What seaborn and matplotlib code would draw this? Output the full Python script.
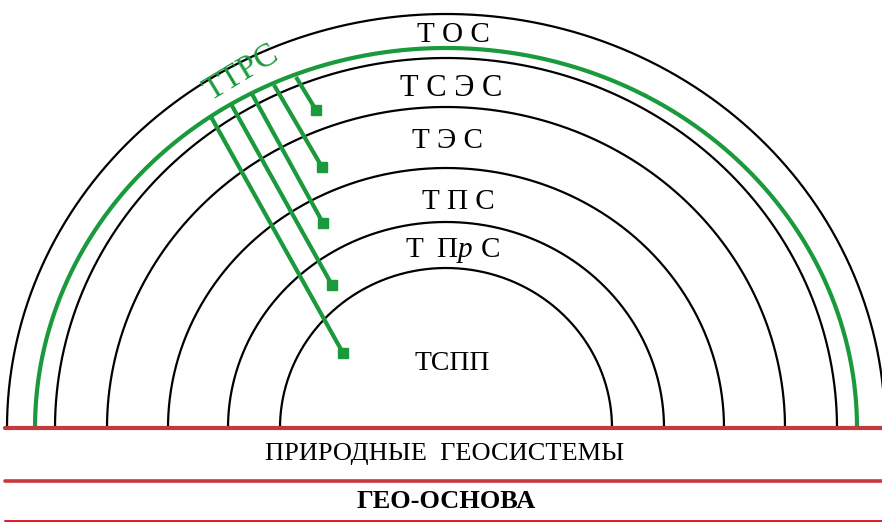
import numpy as np
import pandas as pd
import matplotlib
matplotlib.use("Agg")
import matplotlib.pyplot as plt
import seaborn as sns

sns.set_theme(style="white")
plt.rcParams['font.family'] = ['Liberation Serif', 'DejaVu Serif']
plt.rcParams['text.color'] = 'black'

# ---- data (diagram geometry in pixel units) ----
center_x = 446
base_y = 428
ring_rx = [439, 391, 339, 278, 218, 166]
ring_ry = [414, 370, 321, 260, 206, 160]
green_rx = 411
green_ry = 380
ring_labels = ["Т О С", "Т С Э С", "Т Э С", "Т П С", "ТСПП"]
ring_label_x = [453, 451, 448, 458, 452]
ring_label_y = [35, 88, 141, 202, 364]
ring_label_size = [21, 22, 21, 21, 20]
tprs_parts = ["Т", "П", "р", "С"]
tprs_x = [414, 447, 465, 490]
tprs_style = ["normal", "normal", "italic", "normal"]
arrow_start_x = [210, 231, 252, 274, 296]
arrow_start_y = [115, 104, 94, 85, 77]
arrow_end_x = [343, 332, 323, 322, 316]
arrow_end_y = [353, 285, 223, 167, 110]
bottom_labels = ["ПРИРОДНЫЕ  ГЕОСИСТЕМЫ", "ГЕО-ОСНОВА"]

GREEN = "#1a9a3c"
fig = plt.figure(figsize=(8.82, 5.23), dpi=100)
ax = fig.add_axes([0, 0, 1, 1])
ax.set_xlim(0, 882)
ax.set_ylim(523, 0)
ax.axis("off")

t = np.linspace(0, np.pi, 400)
rows = []
for i, (rx, ry) in enumerate(zip(ring_rx, ring_ry)):
    for k, tt in enumerate(t):
        rows.append({"ring": i, "k": k, "x": center_x + rx * np.cos(tt), "y": base_y - ry * np.sin(tt)})
rings = pd.DataFrame(rows)
sns.lineplot(data=rings, x="x", y="y", units="ring", estimator=None, sort=False,
             color="black", lw=1.6, ax=ax, legend=False)

g = pd.DataFrame({"x": center_x + green_rx * np.cos(t), "y": base_y - green_ry * np.sin(t)})
sns.lineplot(data=g, x="x", y="y", sort=False, estimator=None, color=GREEN, lw=3.0, ax=ax)

for sx, sy, ex, ey in zip(arrow_start_x, arrow_start_y, arrow_end_x, arrow_end_y):
    ax.plot([sx, ex], [sy, ey], color=GREEN, lw=3.0, solid_capstyle="butt")
    ax.plot([ex], [ey], marker="s", ms=7, color=GREEN)

ax.text(241, 73, "ТТРС", color=GREEN, fontsize=24, rotation=31,
        ha="center", va="center")

for lab, x, y, s in zip(ring_labels, ring_label_x, ring_label_y, ring_label_size):
    ax.text(x, y, lab, fontsize=s, ha="center", va="center", color="black")

for p, x, st in zip(tprs_parts, tprs_x, tprs_style):
    ax.text(x, 250, p, fontsize=21, ha="center", va="center", style=st, color="black")

ax.plot([5, 882], [base_y, base_y], color="#c03a3e", lw=3.0)
ax.plot([5, 882], [481, 481], color="#c8383e", lw=2.6)
ax.plot([5, 882], [521, 521], color="#e01a28", lw=1.4)

ax.text(445, 454, bottom_labels[0], fontsize=19, ha="center", va="center", color="black")
ax.text(446, 502, bottom_labels[1], fontsize=19, ha="center", va="center", weight="bold", color="black")

fig.savefig("out.png", dpi=100)
